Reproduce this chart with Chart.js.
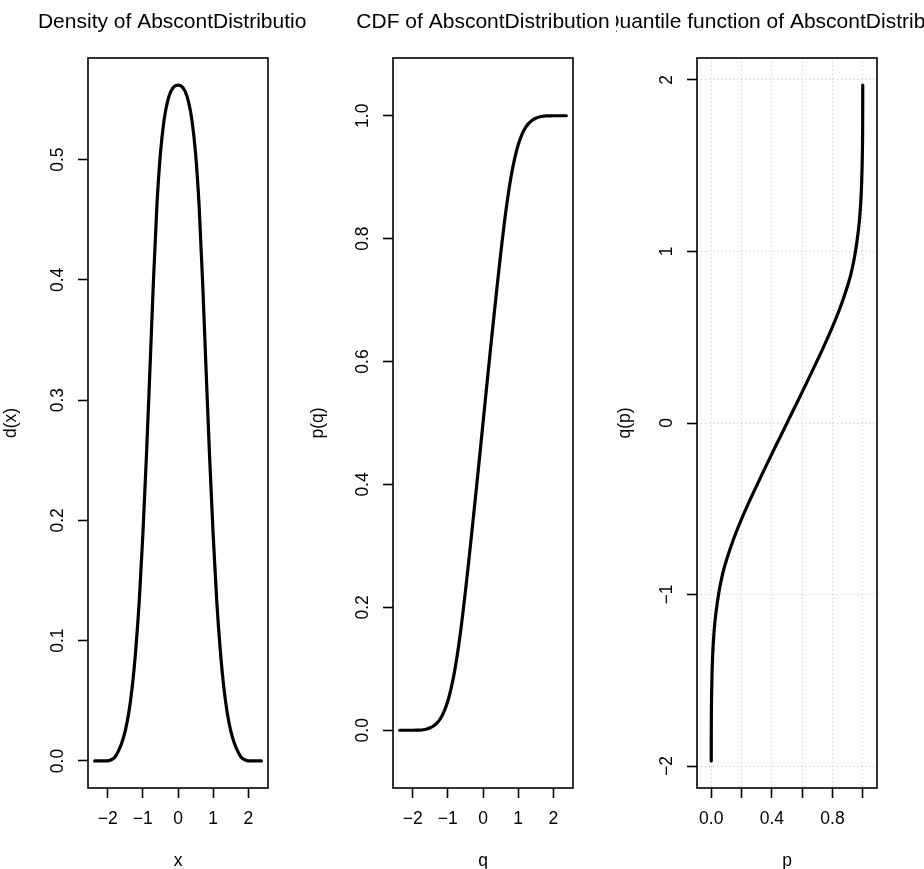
<!DOCTYPE html>
<html>
<head>
<meta charset="utf-8">
<script src="https://cdn.jsdelivr.net/npm/chart.js@4/dist/chart.umd.min.js"></script>
<style>
  html,body{margin:0;padding:0;background:#fff;}
  #wrap{position:relative;width:924px;height:869px;overflow:hidden;}
  .panel{position:absolute;top:0;width:308px;height:869px;}
</style>
</head>
<body>
<div id="wrap">
  <div class="panel" style="left:0"><canvas id="dens" width="308" height="869"></canvas></div>
  <div class="panel" style="left:308px"><canvas id="cdf" width="308" height="869"></canvas></div>
  <div class="panel" style="left:616px"><canvas id="quant" width="308" height="869"></canvas></div>
</div>
<script>
// density
const densX = [-2.37,-2.2,-2.0,-1.9,-1.8,-1.7,-1.6,-1.5,-1.4,-1.3,-1.2,-1.1,-1.0,-0.9,-0.8,-0.7,-0.6,-0.5,-0.4,-0.3,-0.2,-0.1,0,
               0.1,0.2,0.3,0.4,0.5,0.6,0.7,0.8,0.9,1.0,1.1,1.2,1.3,1.4,1.5,1.6,1.7,1.8,1.9,2.0,2.2,2.37];
const densY = [0,0,0,0.001,0.003,0.008,0.015,0.025,0.040,0.062,0.093,0.134,0.188,0.252,0.324,0.398,0.462,0.505,0.532,0.548,0.557,0.561,0.562,
               0.561,0.557,0.548,0.532,0.505,0.462,0.398,0.324,0.252,0.188,0.134,0.093,0.062,0.040,0.025,0.015,0.008,0.003,0.001,0,0,0];

// cdf, middle panel
const cdfX = densX;
const cdfY = [0,0,0,0.0001,0.0003,0.0008,0.002,0.004,0.0072,0.0123,0.020,0.0315,0.0476,0.0696,0.0984,0.1345,0.1775,0.226,0.278,0.332,0.387,0.443,0.5,
              0.557,0.613,0.668,0.722,0.774,0.8225,0.8655,0.9016,0.9304,0.9524,0.9685,0.980,0.9877,0.9928,0.996,0.998,0.9992,0.9997,0.9999,1,1,1];

// quantile function, right panel
const quantP = [0,0.0005,0.001,0.002,0.005,0.01,0.02,0.03,0.05,0.075,0.1,0.15,0.2,0.25,0.3,0.35,0.4,0.45,0.5,
                0.55,0.6,0.65,0.7,0.75,0.8,0.85,0.9,0.925,0.95,0.97,0.98,0.99,0.995,0.998,0.999,0.9995,1];
const quantQ = [-1.97,-1.75,-1.68,-1.6,-1.47,-1.34,-1.2,-1.115,-0.99,-0.88,-0.8,-0.67,-0.56,-0.46,-0.365,-0.272,-0.18,-0.09,0,
                0.09,0.18,0.272,0.365,0.46,0.56,0.67,0.8,0.88,0.99,1.115,1.2,1.34,1.47,1.6,1.68,1.75,1.97];

// ticks
const xTicks = [-2,-1,0,1,2];
const xTickLabels = ['\u22122','\u22121','0','1','2'];
const densYTicks = [0,0.1,0.2,0.3,0.4,0.5];
const densYTickLabels = ['0.0','0.1','0.2','0.3','0.4','0.5'];
const cdfYTicks = [0,0.2,0.4,0.6,0.8,1];
const cdfYTickLabels = ['0.0','0.2','0.4','0.6','0.8','1.0'];
const quantXTicks = [0,0.2,0.4,0.6,0.8,1];
const quantXTickLabels = ['0.0','','0.4','','0.8',''];
const quantYTicks = [-2,-1,0,1,2];
const quantYTickLabels = ['\u22122','\u22121','0','1','2'];

const FONT = '"Liberation Sans", Arial, Helvetica, sans-serif';
const H = 869, BOX_TOP = 58, BOX_BOTTOM = 788;

// R style 4% padding
const pad = (lo, hi) => { const d = (hi - lo) * 0.04; return [lo - d, hi + d]; };

const frame = {
  id: 'frame',
  afterDraw(chart, args, o){
    const ctx = chart.ctx, a = chart.chartArea;
    const xs = chart.scales.x, ys = chart.scales.y;
    ctx.save();
    ctx.strokeStyle = '#000';
    ctx.lineWidth = 1.6;
    ctx.strokeRect(a.left, a.top, a.right - a.left, a.bottom - a.top);
    ctx.fillStyle = '#000';
    // title
    ctx.font = '21px ' + FONT;
    ctx.textAlign = 'center';
    ctx.textBaseline = 'middle';
    ctx.fillText(o.title, (a.left + a.right) / 2, 22);
    // x tick labels
    ctx.font = '17.5px ' + FONT;
    o.xTicks.forEach((v, i) => {
      if (o.xLabels[i]) ctx.fillText(o.xLabels[i], xs.getPixelForValue(v), a.bottom + 31);
    });
    ctx.fillText(o.xTitle, (a.left + a.right) / 2, a.bottom + 73);
    // y tick labels, rotated
    o.yTicks.forEach((v, i) => {
      ctx.save();
      ctx.translate(a.left - 30, ys.getPixelForValue(v));
      ctx.rotate(-Math.PI / 2);
      ctx.fillText(o.yLabels[i], 0, 0);
      ctx.restore();
    });
    ctx.save();
    ctx.translate(a.left - o.yTitleOff, (a.top + a.bottom) / 2);
    ctx.rotate(-Math.PI / 2);
    ctx.fillText(o.yTitle, 0, 0);
    ctx.restore();
    ctx.restore();
  }
};

function makePanel(id, cfg){
  const [xmin, xmax] = cfg.xlim;
  const [ymin, ymax] = cfg.ylim;
  const gridCol = cfg.grid ? '#c8c8c8' : 'rgba(0,0,0,0)';
  const axisGrid = {
    color: gridCol, lineWidth: 1,
    drawTicks: true, tickLength: 10, tickColor: '#000', tickWidth: 1.6, tickBorderDash: []
  };
  return new Chart(document.getElementById(id), {
    type: 'scatter',
    data: {datasets: [{
      data: cfg.xs.map((x, i) => ({x, y: cfg.ys[i]})),
      showLine: true,
      borderColor: '#000',
      borderWidth: 3.2,
      borderCapStyle: 'round',
      pointRadius: 0,
      cubicInterpolationMode: 'monotone',
      fill: false
    }]},
    options: {
      responsive: false,
      devicePixelRatio: 1,
      animation: false,
      events: [],
      layout: {padding: {left: 0, right: cfg.padR, top: BOX_TOP, bottom: 0}},
      plugins: {
        legend: {display: false},
        tooltip: {enabled: false},
        frame: {
          title: cfg.title, xTitle: cfg.xTitle, yTitle: cfg.yTitle, yTitleOff: cfg.yTitleOff,
          xTicks: cfg.xTicks, xLabels: cfg.xLabels, yTicks: cfg.yTicks, yLabels: cfg.yLabels
        }
      },
      scales: {
        x: {
          type: 'linear', min: xmin, max: xmax,
          afterBuildTicks: s => { s.ticks = cfg.xTicks.map(v => ({value: v})); },
          afterFit: s => { s.height = H - BOX_BOTTOM; },
          ticks: {display: false},
          border: {display: false, dash: [1, 3]},
          grid: axisGrid
        },
        y: {
          type: 'linear', min: ymin, max: ymax,
          afterBuildTicks: s => { s.ticks = cfg.yTicks.map(v => ({value: v})); },
          afterFit: s => { s.width = cfg.boxL; },
          ticks: {display: false},
          border: {display: false, dash: [1, 3]},
          grid: axisGrid
        }
      }
    },
    plugins: [frame]
  });
}

makePanel('dens', {
  xs: densX, ys: densY,
  xlim: pad(-2.37, 2.37), ylim: pad(0, 0.562),
  boxL: 88, padR: 40,
  title: 'Density of AbscontDistribution', xTitle: 'x', yTitle: 'd(x)', yTitleOff: 77,
  xTicks: xTicks, xLabels: xTickLabels, yTicks: densYTicks, yLabels: densYTickLabels
});

makePanel('cdf', {
  xs: cdfX, ys: cdfY,
  xlim: pad(-2.37, 2.37), ylim: pad(-0.05, 1.05),
  boxL: 85, padR: 43,
  title: 'CDF of AbscontDistribution', xTitle: 'q', yTitle: 'p(q)', yTitleOff: 75,
  xTicks: xTicks, xLabels: xTickLabels, yTicks: cdfYTicks, yLabels: cdfYTickLabels
});

makePanel('quant', {
  xs: quantP, ys: quantQ, grid: true,
  xlim: pad(-0.05, 1.05), ylim: pad(-1.97, 1.97),
  boxL: 81, padR: 47,
  title: 'Quantile function of AbscontDistribution', xTitle: 'p', yTitle: 'q(p)', yTitleOff: 72,
  xTicks: quantXTicks, xLabels: quantXTickLabels, yTicks: quantYTicks, yLabels: quantYTickLabels
});
</script>
</body>
</html>
